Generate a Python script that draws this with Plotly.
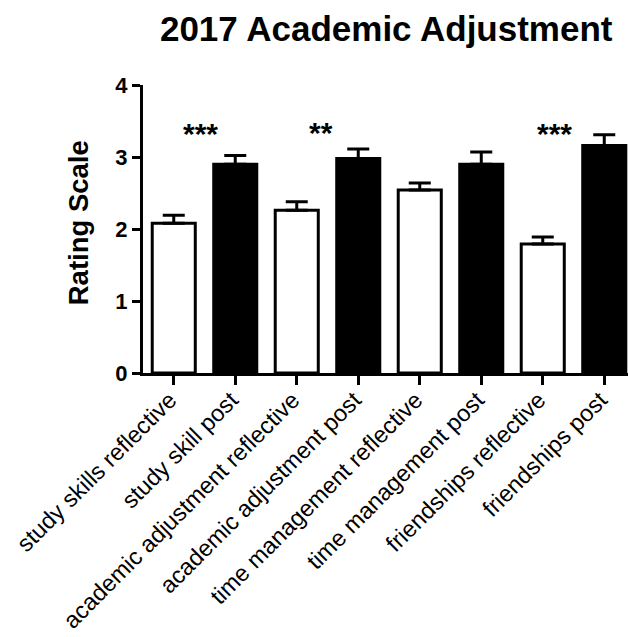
import plotly.graph_objects as go

categories = ["study skills reflective", "study skill post",
              "academic adjustment reflective", "academic adjustment post",
              "time management reflective", "time management post",
              "friendships reflective", "friendships post"]
means = [2.08, 2.90, 2.26, 2.98, 2.54, 2.90, 1.79, 3.16]
errors = [0.11, 0.12, 0.12, 0.13, 0.10, 0.17, 0.10, 0.15]
fills = ["white", "black", "white", "black", "white", "black", "white", "black"]
sig_labels = ["***", "**", "***"]
sig_x = [0.43, 2.40, 6.19]
sig_y = [3.32, 3.34, 3.32]
y_ticks = [0, 1, 2, 3, 4]

FONT = "Liberation Sans, Arial, sans-serif"

fig = go.Figure()
fig.add_trace(go.Bar(
    x=categories, y=means,
    marker=dict(color=fills, line=dict(color="black", width=3)),
    error_y=dict(type="data", array=errors, arrayminus=[0] * len(errors),
                 symmetric=False, color="black", thickness=3, width=11),
    showlegend=False,
))

for t, xx, yy in zip(sig_labels, sig_x, sig_y):
    fig.add_annotation(x=xx, y=yy, xref="x", yref="y", text=f"<b>{t}</b>", showarrow=False,
                       font=dict(family=FONT, size=30, color="black"),
                       xanchor="center", yanchor="middle")

fig.add_annotation(x=-0.134, y=0.52, xref="paper", yref="paper",
                   text="<b>Rating Scale</b>", textangle=-90, showarrow=False,
                   font=dict(family=FONT, size=27.5, color="black"),
                   xanchor="center", yanchor="middle")

fig.update_layout(
    width=628, height=637,
    margin=dict(l=143, r=0, t=85, b=264, autoexpand=False),
    paper_bgcolor="white", plot_bgcolor="white",
    bargap=0.3,
    title=dict(text="<b>2017 Academic Adjustment</b>", x=0.615, xanchor="center",
               y=0.955, yanchor="middle", xref="container", yref="container",
               font=dict(family=FONT, size=35, color="black")),
    font=dict(family=FONT, color="black"),
)
fig.update_xaxes(
    range=[-0.5, 7.386], showline=True, linecolor="black", linewidth=3,
    ticks="outside", ticklen=9, tickwidth=3, tickcolor="black",
    tickangle=-45, tickfont=dict(family=FONT, size=23.5, color="black"),
    ticklabelstandoff=-8, ticklabelshift=-4,
    showgrid=False, zeroline=False, automargin=False,
)
fig.update_yaxes(
    range=[0, 4], tickvals=y_ticks, ticktext=[f"<b>{v}</b>" for v in y_ticks],
    showline=True, linecolor="black", linewidth=3,
    ticks="outside", ticklen=8, tickwidth=3, tickcolor="black",
    tickfont=dict(family=FONT, size=22, color="black"),
    showgrid=False, zeroline=False, automargin=False,
)

fig.write_html("out.html", config={"displayModeBar": False},
               post_script="document.body.style.margin='0';")
